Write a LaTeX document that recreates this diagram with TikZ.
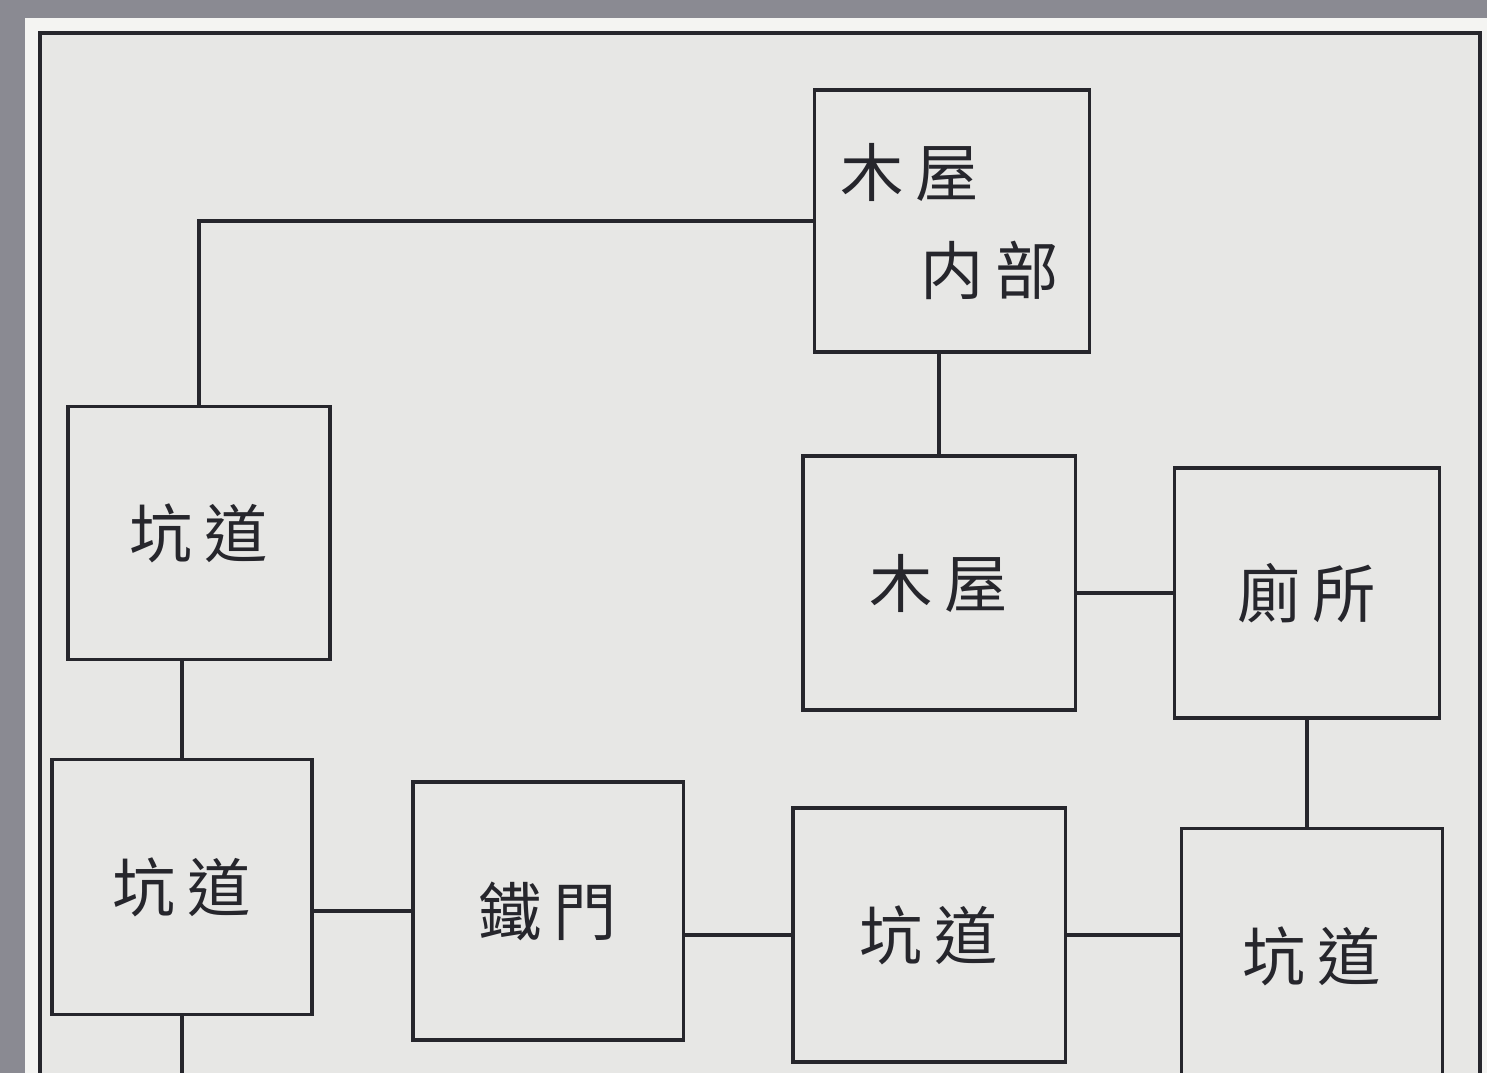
\documentclass[tikz,border=0pt]{standalone}
\usepackage{fontspec}
\newfontfamily\cjk{Noto Sans CJK TC}
\usetikzlibrary{positioning}
\definecolor{paper}{RGB}{231,231,229}
\definecolor{margin}{RGB}{244,244,242}
\definecolor{scan}{RGB}{138,138,146}
\definecolor{ink}{RGB}{38,38,44}
\newcommand{\chgap}{\hspace{0.12cm}}

\begin{document}
\begin{tikzpicture}[x=0.01cm, y=-0.01cm,
    room/.style={draw=ink, line width=0.9pt, minimum width=2.65cm,
                 minimum height=2.55cm, inner sep=0pt, text=ink,
                 font=\cjk\fontsize{18}{18}\selectfont},
    word/.style={inner sep=0pt, text=ink, font=\cjk\fontsize{18}{18}\selectfont},
    link/.style={draw=ink, line width=0.9pt}]
  \useasboundingbox (0,0) rectangle (1487,1073);
  % scanned page and frame
  \fill[scan] (0,0) rectangle (1487,1073);
  \fill[margin] (25,18) rectangle (1487,1073);
  \fill[paper] (40,33) rectangle (1480,1073);
  \draw[ink, line width=1.1pt] (40,1073) -- (40,33) -- (1480,33) -- (1480,1073);
  % rooms, top row
  \node[room, minimum width=2.75cm, minimum height=2.62cm] (naibu) at (952,221) {};
  \node[word] (naibu-a) at (910,172) {木\chgap 屋};
  \node[word] (naibu-b) at (990,270) {内\chgap 部};
  \node[room, minimum width=2.62cm, minimum height=2.53cm] (kodo-l) at (199,533) {坑\chgap 道};
  \node[room, minimum width=2.72cm, minimum height=2.54cm] (kiya) at (939,583) {木\chgap 屋};
  \node[room, minimum width=2.65cm, minimum height=2.50cm] (benjo) at (1307,593) {廁\chgap 所};
  % rooms, bottom row
  \node[room, minimum width=2.60cm, minimum height=2.55cm] (kodo-bl) at (182,887) {坑\chgap 道};
  \node[room, minimum width=2.70cm, minimum height=2.58cm] (tetsumon) at (548,911) {鐵\chgap 門};
  \node[room, minimum width=2.72cm, minimum height=2.54cm] (kodo-bm) at (929,935) {坑\chgap 道};
  \node[room, minimum width=2.61cm, minimum height=2.55cm] (kodo-br) at (1312,956) {坑\chgap 道};
  \coordinate (exit) at (173,1073);
  % passages
  \draw[link] (kodo-l.north) |- (naibu.west);
  \draw[link] (kiya.north) -- (kiya.north |- naibu.south);
  \draw[link] (benjo.west) -- (benjo.west -| kiya.east);
  \draw[link] (benjo.south) -- (benjo.south |- kodo-br.north);
  \draw[link] (kodo-bl.north) -- (kodo-bl.north |- kodo-l.south);
  \draw[link] (tetsumon.west) -- (tetsumon.west -| kodo-bl.east);
  \draw[link] (kodo-bm.west) -- (kodo-bm.west -| tetsumon.east);
  \draw[link] (kodo-bm.east) -- (kodo-bm.east -| kodo-br.west);
  \draw[link] (kodo-bl.south) -- (kodo-bl.south |- exit);
\end{tikzpicture}
\end{document}
